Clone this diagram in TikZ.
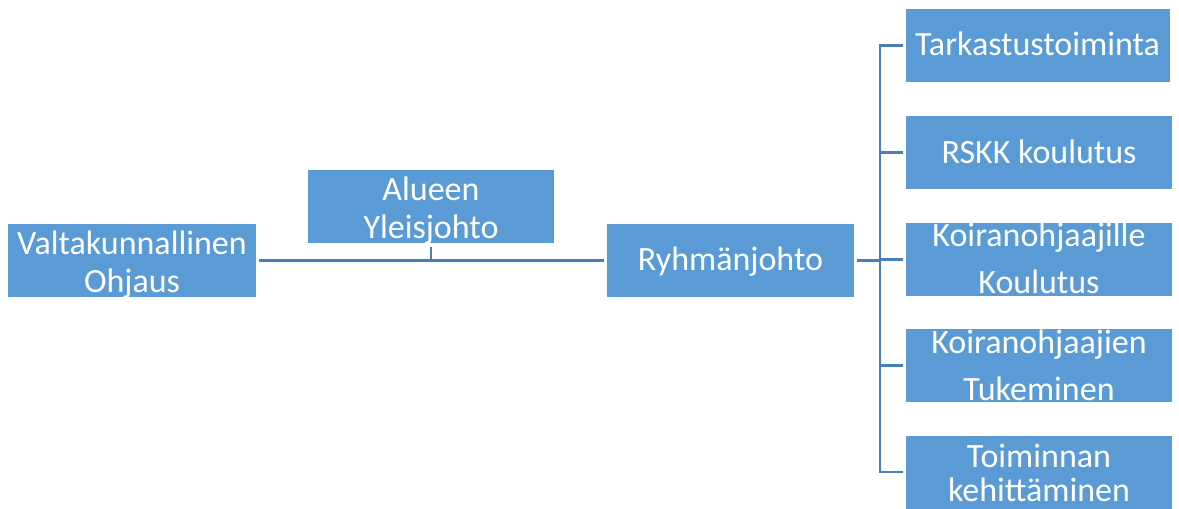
\documentclass[tikz,border=0pt]{standalone}
\usepackage{fontspec}
\setmainfont{Carlito}
\begin{document}
\begin{tikzpicture}[x=1pt,y=-1pt,
  box/.style={fill=boxblue, draw=none, inner sep=0pt, minimum height=73pt},
  lbl/.style={text=white, inner sep=0pt, anchor=base, font=\fontsize{34}{40}\selectfont},
  conn/.style={draw=lineblue, line width=2.8pt}]
\definecolor{boxblue}{HTML}{5B9BD5}
\definecolor{lineblue}{HTML}{4A7EBB}
\useasboundingbox (0,0) rectangle (1179,509);
% boxes
\node[box, minimum width=248pt] (v) at (132,260.5) {};
\node[box, minimum width=246pt] (a) at (431,206.5) {};
\node[box, minimum width=247pt] (r) at (730.5,260.5) {};
\node[box, minimum width=264pt] (t1) at (1037.5,45.5) {};
\node[box, minimum width=266pt] (t2) at (1039,152.5) {};
\node[box, minimum width=266pt] (t3) at (1039,259.5) {};
\node[box, minimum width=266pt] (t4) at (1039,365.5) {};
\node[box, minimum width=266pt] (t5) at (1039,472) {};
% texts
\node[lbl] at ([yshift=6.5pt]v.center) {Valtakunnallinen};
\node[lbl] at ([yshift=-31.5pt]v.center) {Ohjaus};
\node[lbl] at ([yshift=6.5pt]a.center) {Alueen};
\node[lbl] at ([yshift=-31.8pt]a.center) {Yleisjohto};
\node[lbl] at ([yshift=-9.5pt]r.center) {Ryhmänjohto};
\node[lbl] at ([yshift=-9.5pt]t1.center) {Tarkastustoiminta};
\node[lbl] at ([yshift=-10.5pt]t2.center) {RSKK koulutus};
\node[lbl] at ([yshift=12.8pt]t3.center) {Koiranohjaajille};
\node[lbl] at ([yshift=-33.5pt]t3.center) {Koulutus};
\node[lbl] at ([yshift=12.5pt]t4.center) {Koiranohjaajien};
\node[lbl] at ([yshift=-34.5pt]t4.center) {Tukeminen};
\node[lbl] at ([yshift=4.5pt]t5.center) {Toiminnan};
\node[lbl] at ([yshift=-29.7pt]t5.center) {kehittäminen};
% connector coordinates
\coordinate (j1) at (a.south |- v.east);
\coordinate (j2) at (880,260.5);
% connectors
\draw[conn, shorten <=2.5pt, shorten >=2.5pt] (v.east) -- (r.west);
\draw[conn, shorten <=4pt] (a.south) -- (j1);
\draw[conn, shorten <=2.5pt] (r.east) -- (j2);
\draw[conn, line cap=rect] (j2 |- t1.west) -- (j2 |- t5.west);
\foreach \t in {t1,t2,t3,t4,t5}{
  \draw[conn, shorten >=2.5pt] (j2 |- \t.west) -- (\t.west);
}
\end{tikzpicture}
\end{document}
